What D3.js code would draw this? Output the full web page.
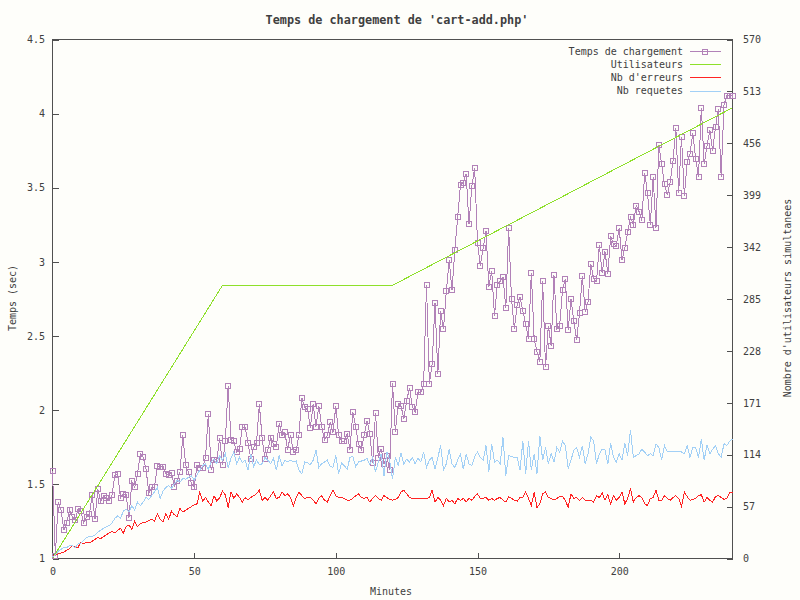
<!DOCTYPE html>
<html>
<head>
<meta charset="utf-8">
<script src="https://cdn.jsdelivr.net/npm/d3@7"></script>
<style>
  html, body { margin: 0; padding: 0; background: #fefefa; }
  svg { display: block; }
  text { font-family: "DejaVu Sans Mono", monospace; fill: #404040; }
</style>
</head>
<body>
<svg id="chart" width="800" height="600"></svg>
<script>
// ---- data (one sample per minute, 0..240) ----
const titleText = "Temps de chargement de 'cart-add.php'";
const seriesNames = ["Temps de chargement", "Utilisateurs", "Nb d'erreurs", "Nb requetes"];
const xTicks = [0, 50, 100, 150, 200];
const yLeftTicks = [1, 1.5, 2, 2.5, 3, 3.5, 4, 4.5];
const yRightTicks = [0, 57, 114, 171, 228, 285, 342, 399, 456, 513, 570];

const tempsChargement = [
  1.59,1.02,1.38,1.33,1.19,1.24,1.33,1.28,1.26,1.335,
  1.32,1.24,1.28,1.30,1.425,1.265,1.47,1.385,1.42,1.405,
  1.39,1.43,1.56,1.57,1.41,1.435,1.43,1.275,1.52,1.48,
  1.57,1.705,1.685,1.605,1.44,1.48,1.48,1.625,1.62,1.62,
  1.57,1.565,1.575,1.485,1.52,1.585,1.83,1.63,1.58,1.51,
  1.48,1.63,1.61,1.61,1.68,1.975,1.60,1.665,1.665,1.81,
  1.63,1.79,2.165,1.80,1.79,1.72,1.74,1.885,1.885,1.78,
  1.67,1.75,1.78,2.04,1.81,1.67,1.735,1.815,1.77,1.755,
  1.91,1.83,1.85,1.735,1.835,1.72,1.73,1.835,2.085,2.02,
  2.01,1.88,2.04,1.89,2.03,1.89,1.80,1.83,1.92,1.85,
  2.03,1.83,1.79,1.79,1.84,1.735,1.99,1.89,1.77,1.735,
  1.83,1.93,1.84,1.645,1.98,1.68,1.74,1.64,1.69,1.60,
  2.18,1.855,2.04,2.03,1.94,2.065,2.15,2.025,1.99,2.12,
  2.12,2.18,2.845,2.18,2.31,2.725,2.245,2.67,2.545,2.805,
  3.01,2.81,3.08,3.30,3.52,3.535,3.595,3.255,3.51,3.635,
  3.13,2.975,3.095,3.21,2.83,2.94,2.635,2.845,2.87,2.90,
  2.69,3.23,2.75,2.55,2.71,2.765,2.67,2.58,2.48,2.925,
  2.48,2.395,2.325,2.87,2.29,2.57,2.435,2.91,2.55,2.57,
  2.81,2.885,2.54,2.75,2.60,2.475,2.655,2.905,2.665,2.73,
  2.985,2.885,2.87,3.115,2.925,3.07,2.92,3.175,3.12,3.11,
  3.23,3.01,3.095,3.20,3.30,3.25,3.38,3.34,3.28,3.60,
  3.465,3.25,3.57,3.23,3.79,3.66,3.525,3.45,3.54,3.68,
  3.90,3.465,3.845,3.445,3.675,3.73,3.87,3.695,3.575,4.04,
  3.66,3.78,3.89,3.75,3.91,4.03,3.575,4.06,4.12,4.12,
  4.12
];

const utilisateursMinutes = [0, 60, 120, 240];
const utilisateurs = [0, 300, 300, 495];

const nbErreurs = [
  2,4,5,6,7,9,11,14,13,12, 18,16,18,17,19,21,23,22,24,26,
  28,30,28,31,33,28,35,37,32,41, 35,38,40,40,42,43,41,49,43,40,
  49,43,52,48,46,55,51,53,55,57, 59,60,73,63,67,62,58,69,63,67,
  74,70,56,73,66,71,67,62,67,64, 67,69,71,75,64,67,64,69,73,66,
  67,73,69,71,67,58,67,73,69,66, 67,67,64,60,66,69,64,62,69,75,
  69,67,67,66,64,64,66,69,71,67, 66,67,62,66,69,66,64,69,67,65,
  64,65,67,73,75,71,67,66,66,66, 66,66,66,67,75,62,67,64,58,66,
  62,64,60,66,64,66,62,66,64,68, 71,66,66,67,64,66,64,66,67,64,
  62,68,66,64,63,67,67,73,66,58, 73,56,60,71,73,67,66,64,66,68,
  68,64,56,71,66,67,64,67,64,63, 64,62,69,67,72,64,70,60,69,64,
  67,73,60,66,77,62,67,69,67,60, 58,66,67,75,64,64,69,66,64,67,
  69,66,57,73,68,64,65,66,69,70, 62,67,64,62,68,69,67,65,66,72,
  73
];

const nbRequetes = [
  1.5,4,8,10,12,12,14,14,12,16, 17,20,23,24,24,26,29,31,33,35,
  36,39,44,47,44,52,54,51,58,53, 62,58,62,67,65,69,73,78,66,74,
  78,80,77,82,86,84,88,87,89,91, 86,92,97,102,104,98,106,109,104,113,
  108,115,100,110,117,104,111,105,108,97, 115,101,108,103,104,111,108,104,110,97,
  113,102,108,106,108,106,107,97,93,106, 105,103,108,119,100,104,106,108,101,100,
  113,93,105,102,98,111,112,101,106,107, 108,110,103,111,95,106,115,91,117,108,
  87,111,102,116,104,109,106,111,104,110, 106,117,100,108,111,98,111,124,97,104,
  120,104,100,108,115,98,115,104,102,112, 117,111,108,124,95,126,106,108,104,133,
  91,113,112,111,111,97,129,93,129,97, 115,93,135,108,122,104,115,106,122,117,
  129,124,99,108,119,122,111,124,104,115, 133,129,104,115,120,119,104,127,111,106,
  115,108,127,113,141,111,113,115,120,117, 113,115,113,126,122,108,124,117,118,118,
  117,117,117,115,124,111,122,122,111,131, 108,125,115,120,124,115,111,126,124,129,
  131
];

const minutes = d3.range(0, tempsChargement.length);

// ---- layout ----
const svg = d3.select("#chart");
const L = 52.5, R = 732.5, T = 39.5, B = 558.5;
const x = d3.scaleLinear().domain([0, 240]).range([L, R]);
const yL = d3.scaleLinear().domain([1, 4.5]).range([B, T]);
const yR = d3.scaleLinear().domain([0, 570]).range([B, T]);

const colors = { temps: "#b282b8", users: "#8ee02a", err: "#ff2424", req: "#a2d0f6" };
const axisColor = "#505050";

svg.append("rect").attr("width", 800).attr("height", 600).attr("fill", "#fefefa");

// Axes with inward ticks
function styleAxis(g) {
  g.select(".domain").remove();
  g.selectAll(".tick line").attr("stroke", axisColor).attr("shape-rendering", "crispEdges");
  g.selectAll(".tick text").attr("fill", "#404040")
    .style("font-family", "'DejaVu Sans Mono', monospace").style("font-size", "10px");
}

svg.append("g").attr("transform", `translate(${L},0)`)
  .call(d3.axisLeft(yL).tickValues(yLeftTicks).tickSize(-6).tickPadding(7.5)
    .tickFormat(d => String(d)))
  .call(styleAxis);

svg.append("g").attr("transform", `translate(${R},0)`)
  .call(d3.axisRight(yR).tickValues(yRightTicks).tickSize(-6).tickPadding(10.5)
    .tickFormat(d => String(d)))
  .call(styleAxis);

svg.append("g").attr("transform", `translate(0,${B})`)
  .call(d3.axisBottom(x).tickValues(xTicks).tickSize(-6).tickPadding(9)
    .tickFormat(d => String(d)))
  .call(styleAxis);

// Frame
svg.append("rect").attr("x", L).attr("y", T).attr("width", R - L).attr("height", B - T)
  .attr("fill", "none").attr("stroke", axisColor).attr("stroke-width", 1)
  .attr("shape-rendering", "crispEdges");

// Series
const lineL = d3.line().x((d, i) => x(minutes[i])).y(d => yL(d));
const lineR = d3.line().x((d, i) => x(minutes[i])).y(d => yR(d));
const lineU = d3.line().x((d, i) => x(utilisateursMinutes[i])).y(d => yR(d));

const plot = svg.append("g");

plot.append("path").datum(tempsChargement).attr("d", lineL)
  .attr("fill", "none").attr("stroke", colors.temps).attr("stroke-width", 1)
  .attr("shape-rendering", "crispEdges");
plot.append("g").selectAll("rect").data(tempsChargement).join("rect")
  .attr("x", (d, i) => Math.round(x(minutes[i])) - 2.5)
  .attr("y", d => Math.round(yL(d)) - 2.5)
  .attr("width", 5).attr("height", 5)
  .attr("fill", "none").attr("stroke", colors.temps).attr("stroke-width", 1)
  .attr("shape-rendering", "crispEdges");

plot.append("path").datum(utilisateurs).attr("d", lineU)
  .attr("fill", "none").attr("stroke", colors.users).attr("stroke-width", 1)
  .attr("shape-rendering", "crispEdges");

plot.append("path").datum(nbErreurs).attr("d", lineR)
  .attr("fill", "none").attr("stroke", colors.err).attr("stroke-width", 1)
  .attr("shape-rendering", "crispEdges");

plot.append("path").datum(nbRequetes).attr("d", lineR)
  .attr("fill", "none").attr("stroke", colors.req).attr("stroke-width", 1)
  .attr("shape-rendering", "crispEdges");

// Legend
const legendColors = [colors.temps, colors.users, colors.err, colors.req];
const lg = svg.append("g");
seriesNames.forEach((name, i) => {
  const yy = 51 + i * 13.2;
  lg.append("text").attr("x", 683).attr("y", yy).attr("dy", "0.35em")
    .attr("text-anchor", "end").style("font-size", "10px").text(name);
  lg.append("rect").attr("x", 690).attr("y", Math.round(yy)).attr("width", 31).attr("height", 1)
    .attr("fill", legendColors[i]);
  if (i === 0) {
    lg.append("rect").attr("x", 702.5).attr("y", Math.round(yy) - 2)
      .attr("width", 5).attr("height", 5).attr("fill", "none")
      .attr("stroke", colors.temps).attr("shape-rendering", "crispEdges");
  }
});

// Titles
svg.append("text").attr("x", 397).attr("y", 20).attr("dy", "0.35em")
  .attr("text-anchor", "middle").style("font-size", "11.8px").style("font-weight", "bold")
  .text(titleText);
svg.append("text").attr("x", 391).attr("y", 591).attr("dy", "0.35em")
  .attr("text-anchor", "middle").style("font-size", "10px").text("Minutes");
svg.append("text").attr("transform", "translate(12,298) rotate(-90)").attr("dy", "0.35em")
  .attr("text-anchor", "middle").style("font-size", "10px").text("Temps (sec)");
svg.append("text").attr("transform", "translate(787,298) rotate(-90)").attr("dy", "0.35em")
  .attr("text-anchor", "middle").style("font-size", "10px").text("Nombre d'utilisateurs simultanees");
</script>
</body>
</html>
